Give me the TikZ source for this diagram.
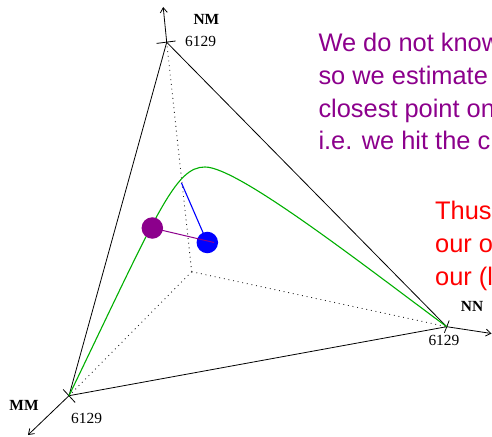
\documentclass[tikz,border=0pt]{standalone}
\usepackage{fontspec}
\setmainfont{Liberation Serif}
\newfontfamily\helv{Liberation Sans}
\usetikzlibrary{arrows.meta}
\definecolor{mypurple}{RGB}{140,0,140}
\definecolor{mygreen}{RGB}{0,175,0}
\tikzset{
  axisline/.style={black, line width=0.8bp},
  axisarrow/.style={black, line width=0.8bp, -{Straight Barb[length=5bp,width=7bp]}},
  hidden/.style={black!85, line width=0.9bp, dash pattern=on 0.9bp off 3.8bp},
  tickmark/.style={black, line width=0.8bp},
  axlabel/.style={font=\fontsize{15.5}{15.5}\selectfont\bfseries, anchor=base west, inner sep=0},
  numlabel/.style={font=\fontsize{15.5}{15.5}\selectfont, anchor=base west, inner sep=0},
  note/.style={font=\helv\fontsize{25.5}{25.5}\selectfont, anchor=base west, inner sep=0},
  dot/.style={circle, minimum size=21.5bp, inner sep=0},
}
\begin{document}
\begin{tikzpicture}[x=1bp,y=-1bp]
\useasboundingbox (0,0) rectangle (492,437);
\clip (0,0) rectangle (492,437);
% vertices
\coordinate (O) at (191.7,271.7);
\coordinate (NMv) at (166.7,42.3);
\coordinate (MMv) at (69,395.7);
\coordinate (NNv) at (446.7,326.7);
\coordinate (NMtip) at (163.2,7);
\coordinate (MMtip) at (28,435);
\coordinate (NNtip) at (491.5,333.5);
% ticks
\coordinate (t1a) at (156.7,43.4);
\coordinate (t1b) at (175.6,41.0);
\coordinate (t2a) at (63.2,389.5);
\coordinate (t2b) at (75.2,402.5);
\coordinate (t3a) at (449.2,320.5);
\coordinate (t3b) at (444.4,332.8);
% hidden axes
\draw[hidden] (O) -- (NMv);
\draw[hidden] (O) -- (MMv);
\draw[hidden] (O) -- (NNv);
% triangle
\draw[axisline] (NMv) -- (MMv) -- (NNv) -- cycle;
% axis arrows
\draw[axisarrow] (NMv) -- (NMtip);
\draw[axisarrow] (MMv) -- (MMtip);
\draw[axisarrow] (NNv) -- (NNtip);
\draw[tickmark] (t1a) -- (t1b);
\draw[tickmark] (t2a) -- (t2b);
\draw[tickmark] (t3a) -- (t3b);
% labels
\node[axlabel] (lNM) at (193.3,25) {NM};
\node[numlabel] (nNM) at (185,46.7) {6129};
\node[axlabel] (lMM) at (9.3,410) {MM};
\node[numlabel] (nMM) at (71,423.3) {6129};
\node[axlabel] (lNN) at (460.7,311.7) {NN};
\node[numlabel] (nNN) at (428.3,345) {6129};
% green curve
\draw[mygreen, line width=1.1bp] (MMv) .. controls (158,211) and (175,167) .. (205,167)
   .. controls (238,167) and (362,264) .. (NNv);
% estimate
\coordinate (onc) at (181.5,183);
\coordinate (pend) at (214,242.5);
\node[dot, fill=blue] (bdot) at (207.3,242.5) {};
\draw[blue, line width=1.1bp] (onc) -- (bdot.center);
\node[dot, fill=mypurple] (pdot) at (152.3,228) {};
\draw[mypurple, line width=1bp] (pdot.center) -- (pend);
% text
\node[note, text=mypurple] (t1) at (318.3,51.7) {We do not know};
\node[note, text=mypurple] (t2) at (318.3,84.5) {so we estimate};
\node[note, text=mypurple] (t3) at (318.3,117.3) {closest point on};
\node[note, text=mypurple] (t4) at (318.3,150) {i.e. we hit the c};
\node[note, text=red] (r1) at (435,219.5) {Thus};
\node[note, text=red] (r2) at (435,252.5) {our o};
\node[note, text=red] (r3) at (435,285.5) {our (l};
\end{tikzpicture}
\end{document}
